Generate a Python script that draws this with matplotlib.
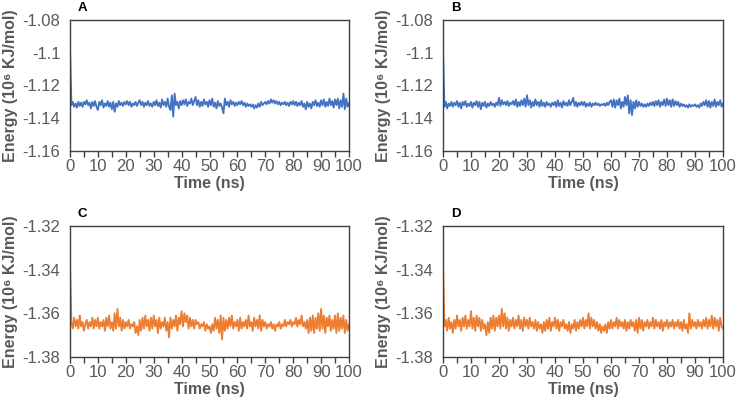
import numpy as np
import matplotlib
matplotlib.use('Agg')
import matplotlib.pyplot as plt

plt.rcParams['font.family'] = ['Liberation Sans', 'DejaVu Sans']

# time axis (ns), one frame every 0.5 ns
time_ns = np.linspace(0, 100, 201)

# total energy, 10^6 KJ/mol
energy_a = [
    -1.0970, -1.1320, -1.1300, -1.1330, -1.1310, -1.1335, -1.1300, -1.1325, -1.1305, -1.1330,
    -1.1300, -1.1315, -1.1290, -1.1320, -1.1305, -1.1340, -1.1300, -1.1325, -1.1295, -1.1330,
    -1.1350, -1.1300, -1.1320, -1.1290, -1.1335, -1.1310, -1.1325, -1.1295, -1.1330, -1.1305,
    -1.1345, -1.1300, -1.1360, -1.1310, -1.1330, -1.1295, -1.1320, -1.1305, -1.1325, -1.1300,
    -1.1315, -1.1295, -1.1320, -1.1300, -1.1330, -1.1310, -1.1320, -1.1300, -1.1325, -1.1305,
    -1.1290, -1.1320, -1.1300, -1.1330, -1.1305, -1.1320, -1.1295, -1.1325, -1.1310, -1.1330,
    -1.1300, -1.1320, -1.1290, -1.1325, -1.1305, -1.1335, -1.1285, -1.1320, -1.1300, -1.1330,
    -1.1280, -1.1330, -1.1350, -1.1260, -1.1390, -1.1250, -1.1320, -1.1300, -1.1340, -1.1295,
    -1.1320, -1.1290, -1.1315, -1.1285, -1.1325, -1.1300, -1.1310, -1.1280, -1.1320, -1.1295,
    -1.1270, -1.1320, -1.1290, -1.1330, -1.1300, -1.1325, -1.1285, -1.1315, -1.1300, -1.1330,
    -1.1290, -1.1320, -1.1280, -1.1330, -1.1305, -1.1340, -1.1295, -1.1325, -1.1310, -1.1335,
    -1.1370, -1.1280, -1.1320, -1.1300, -1.1330, -1.1290, -1.1315, -1.1300, -1.1325, -1.1305,
    -1.1320, -1.1300, -1.1315, -1.1295, -1.1320, -1.1305, -1.1330, -1.1310, -1.1325, -1.1315,
    -1.1330, -1.1315, -1.1340, -1.1320, -1.1335, -1.1310, -1.1330, -1.1300, -1.1320, -1.1310,
    -1.1300, -1.1315, -1.1295, -1.1310, -1.1285, -1.1305, -1.1290, -1.1310, -1.1295, -1.1315,
    -1.1300, -1.1320, -1.1305, -1.1315, -1.1300, -1.1320, -1.1305, -1.1325, -1.1300, -1.1315,
    -1.1295, -1.1320, -1.1300, -1.1325, -1.1305, -1.1320, -1.1295, -1.1330, -1.1310, -1.1345,
    -1.1300, -1.1330, -1.1310, -1.1340, -1.1300, -1.1320, -1.1290, -1.1325, -1.1305, -1.1330,
    -1.1290, -1.1320, -1.1285, -1.1330, -1.1300, -1.1325, -1.1280, -1.1320, -1.1295, -1.1335,
    -1.1285, -1.1320, -1.1280, -1.1340, -1.1290, -1.1330, -1.1250, -1.1345, -1.1280, -1.1330,
    -1.1310,
]
energy_b = [
    -1.0980, -1.1330, -1.1300, -1.1340, -1.1310, -1.1325, -1.1300, -1.1330, -1.1305, -1.1320,
    -1.1295, -1.1330, -1.1305, -1.1340, -1.1300, -1.1320, -1.1295, -1.1330, -1.1310, -1.1325,
    -1.1300, -1.1335, -1.1305, -1.1320, -1.1295, -1.1330, -1.1300, -1.1345, -1.1305, -1.1325,
    -1.1300, -1.1335, -1.1310, -1.1325, -1.1300, -1.1320, -1.1310, -1.1330, -1.1305, -1.1320,
    -1.1275, -1.1325, -1.1290, -1.1315, -1.1300, -1.1320, -1.1295, -1.1325, -1.1305, -1.1315,
    -1.1295, -1.1320, -1.1285, -1.1330, -1.1300, -1.1325, -1.1290, -1.1320, -1.1280, -1.1330,
    -1.1260, -1.1320, -1.1290, -1.1335, -1.1300, -1.1325, -1.1285, -1.1320, -1.1300, -1.1330,
    -1.1290, -1.1325, -1.1305, -1.1330, -1.1300, -1.1320, -1.1310, -1.1330, -1.1305, -1.1320,
    -1.1300, -1.1330, -1.1290, -1.1325, -1.1305, -1.1335, -1.1295, -1.1320, -1.1305, -1.1325,
    -1.1290, -1.1320, -1.1300, -1.1275, -1.1325, -1.1300, -1.1330, -1.1305, -1.1320, -1.1300,
    -1.1320, -1.1300, -1.1330, -1.1310, -1.1325, -1.1305, -1.1330, -1.1310, -1.1320, -1.1305,
    -1.1320, -1.1310, -1.1325, -1.1315, -1.1320, -1.1310, -1.1325, -1.1305, -1.1320, -1.1300,
    -1.1290, -1.1330, -1.1285, -1.1335, -1.1290, -1.1320, -1.1280, -1.1340, -1.1300, -1.1330,
    -1.1270, -1.1320, -1.1260, -1.1370, -1.1290, -1.1380, -1.1300, -1.1340, -1.1290, -1.1330,
    -1.1300, -1.1325, -1.1310, -1.1330, -1.1315, -1.1330, -1.1310, -1.1325, -1.1305, -1.1320,
    -1.1300, -1.1325, -1.1295, -1.1320, -1.1290, -1.1330, -1.1300, -1.1320, -1.1285, -1.1325,
    -1.1280, -1.1320, -1.1290, -1.1330, -1.1285, -1.1325, -1.1295, -1.1320, -1.1300, -1.1330,
    -1.1310, -1.1325, -1.1315, -1.1330, -1.1320, -1.1335, -1.1315, -1.1330, -1.1320, -1.1325,
    -1.1315, -1.1330, -1.1320, -1.1335, -1.1310, -1.1325, -1.1300, -1.1320, -1.1290, -1.1330,
    -1.1295, -1.1335, -1.1300, -1.1325, -1.1285, -1.1330, -1.1300, -1.1320, -1.1290, -1.1330,
    -1.1310,
]
energy_c = [
    -1.3370, -1.3640, -1.3670, -1.3620, -1.3660, -1.3630, -1.3670, -1.3610, -1.3660, -1.3640,
    -1.3680, -1.3650, -1.3630, -1.3670, -1.3640, -1.3660, -1.3620, -1.3670, -1.3630, -1.3660,
    -1.3620, -1.3670, -1.3640, -1.3660, -1.3630, -1.3680, -1.3620, -1.3660, -1.3610, -1.3670,
    -1.3640, -1.3680, -1.3600, -1.3670, -1.3580, -1.3660, -1.3620, -1.3680, -1.3630, -1.3670,
    -1.3640, -1.3660, -1.3630, -1.3670, -1.3650, -1.3660, -1.3640, -1.3690, -1.3660, -1.3700,
    -1.3630, -1.3680, -1.3620, -1.3670, -1.3610, -1.3660, -1.3630, -1.3680, -1.3620, -1.3670,
    -1.3610, -1.3660, -1.3630, -1.3690, -1.3620, -1.3670, -1.3640, -1.3660, -1.3620, -1.3680,
    -1.3640, -1.3710, -1.3620, -1.3670, -1.3630, -1.3660, -1.3610, -1.3680, -1.3620, -1.3650,
    -1.3590, -1.3660, -1.3600, -1.3640, -1.3610, -1.3670, -1.3620, -1.3660, -1.3630, -1.3670,
    -1.3630, -1.3650, -1.3640, -1.3670, -1.3650, -1.3660, -1.3640, -1.3680, -1.3650, -1.3670,
    -1.3660, -1.3690, -1.3650, -1.3680, -1.3620, -1.3670, -1.3630, -1.3690, -1.3610, -1.3720,
    -1.3620, -1.3680, -1.3630, -1.3670, -1.3620, -1.3660, -1.3610, -1.3670, -1.3640, -1.3660,
    -1.3630, -1.3680, -1.3620, -1.3670, -1.3640, -1.3660, -1.3630, -1.3670, -1.3610, -1.3660,
    -1.3640, -1.3680, -1.3620, -1.3660, -1.3630, -1.3670, -1.3610, -1.3680, -1.3630, -1.3660,
    -1.3640, -1.3670, -1.3650, -1.3660, -1.3640, -1.3670, -1.3650, -1.3680, -1.3650, -1.3660,
    -1.3640, -1.3670, -1.3650, -1.3660, -1.3630, -1.3660, -1.3640, -1.3650, -1.3630, -1.3660,
    -1.3640, -1.3650, -1.3620, -1.3660, -1.3630, -1.3650, -1.3610, -1.3660, -1.3640, -1.3670,
    -1.3630, -1.3690, -1.3620, -1.3680, -1.3610, -1.3690, -1.3620, -1.3670, -1.3600, -1.3680,
    -1.3580, -1.3670, -1.3610, -1.3690, -1.3620, -1.3660, -1.3610, -1.3680, -1.3630, -1.3670,
    -1.3610, -1.3690, -1.3600, -1.3680, -1.3620, -1.3670, -1.3610, -1.3690, -1.3630, -1.3680,
    -1.3650,
]
energy_d = [
    -1.3370, -1.3660, -1.3630, -1.3680, -1.3620, -1.3670, -1.3640, -1.3690, -1.3630, -1.3670,
    -1.3610, -1.3660, -1.3630, -1.3680, -1.3620, -1.3660, -1.3610, -1.3670, -1.3630, -1.3660,
    -1.3590, -1.3670, -1.3620, -1.3680, -1.3610, -1.3660, -1.3620, -1.3680, -1.3630, -1.3670,
    -1.3650, -1.3700, -1.3640, -1.3690, -1.3620, -1.3670, -1.3610, -1.3680, -1.3620, -1.3660,
    -1.3610, -1.3670, -1.3580, -1.3660, -1.3600, -1.3670, -1.3620, -1.3680, -1.3630, -1.3660,
    -1.3620, -1.3670, -1.3630, -1.3660, -1.3610, -1.3670, -1.3630, -1.3680, -1.3620, -1.3660,
    -1.3630, -1.3670, -1.3620, -1.3660, -1.3640, -1.3670, -1.3630, -1.3680, -1.3640, -1.3670,
    -1.3650, -1.3690, -1.3640, -1.3680, -1.3630, -1.3670, -1.3620, -1.3680, -1.3640, -1.3660,
    -1.3620, -1.3670, -1.3630, -1.3680, -1.3640, -1.3660, -1.3630, -1.3670, -1.3650, -1.3680,
    -1.3640, -1.3690, -1.3650, -1.3670, -1.3630, -1.3680, -1.3640, -1.3670, -1.3630, -1.3660,
    -1.3620, -1.3670, -1.3630, -1.3660, -1.3600, -1.3670, -1.3620, -1.3660, -1.3630, -1.3670,
    -1.3640, -1.3680, -1.3650, -1.3690, -1.3660, -1.3680, -1.3650, -1.3690, -1.3640, -1.3670,
    -1.3630, -1.3670, -1.3640, -1.3660, -1.3620, -1.3670, -1.3630, -1.3660, -1.3640, -1.3670,
    -1.3630, -1.3680, -1.3640, -1.3670, -1.3630, -1.3660, -1.3640, -1.3680, -1.3630, -1.3690,
    -1.3620, -1.3670, -1.3630, -1.3680, -1.3640, -1.3660, -1.3630, -1.3670, -1.3640, -1.3660,
    -1.3620, -1.3670, -1.3630, -1.3660, -1.3640, -1.3670, -1.3630, -1.3680, -1.3640, -1.3660,
    -1.3630, -1.3670, -1.3640, -1.3660, -1.3630, -1.3670, -1.3640, -1.3660, -1.3630, -1.3670,
    -1.3640, -1.3680, -1.3630, -1.3670, -1.3650, -1.3690, -1.3600, -1.3670, -1.3630, -1.3660,
    -1.3640, -1.3670, -1.3630, -1.3660, -1.3640, -1.3670, -1.3630, -1.3660, -1.3620, -1.3670,
    -1.3630, -1.3660, -1.3610, -1.3670, -1.3620, -1.3660, -1.3630, -1.3680, -1.3620, -1.3660,
    -1.3670,
]

panel_letters = ['A', 'B', 'C', 'D']
series = [energy_a, energy_b, energy_c, energy_d]
colors = ['#4472C4', '#4472C4', '#ED7D31', '#ED7D31']
y_limits = [(-1.16, -1.08), (-1.16, -1.08), (-1.38, -1.32), (-1.38, -1.32)]
y_ticks = [
    [-1.16, -1.14, -1.12, -1.1, -1.08],
    [-1.16, -1.14, -1.12, -1.1, -1.08],
    [-1.38, -1.36, -1.34, -1.32],
    [-1.38, -1.36, -1.34, -1.32],
]
x_ticks = [0, 10, 20, 30, 40, 50, 60, 70, 80, 90, 100]

W, H = 738, 407
fig = plt.figure(figsize=(W / 100, H / 100), dpi=100)

# axes boxes in pixels: left, top, right, bottom
boxes = [(70, 20, 349, 151), (443, 20, 723, 151), (70, 226, 349, 357), (443, 226, 723, 357)]
gray = '#595959'

for letter, y, col, ylim, yt, (l, t, r, b) in zip(panel_letters, series, colors, y_limits, y_ticks, boxes):
    ax = fig.add_axes([l / W, 1 - b / H, (r - l) / W, (b - t) / H])
    ax.plot(time_ns, y, color=col, linewidth=1.35)
    ax.set_xlim(0, 100)
    ax.set_ylim(*ylim)
    ax.set_xticks(x_ticks)
    ax.set_xticks(np.arange(5, 100, 10), minor=True)
    ax.set_yticks(yt)
    ax.set_yticklabels([('%g' % v) for v in yt])
    for s in ax.spines.values():
        s.set_color('#404040')
        s.set_linewidth(1.0)
    ax.tick_params(axis='x', which='both', direction='out', length=4, width=1,
                   color='#404040', labelsize=12, labelcolor=gray, pad=2)
    ax.tick_params(axis='y', length=0, labelsize=12, labelcolor=gray, pad=7)
    ax.set_xlabel('Time (ns)', fontsize=11.5, fontweight='bold', color=gray, labelpad=1)
    ax.set_ylabel('Energy (10⁶ KJ/mol)', fontsize=11.5, fontweight='bold', color=gray, labelpad=3)
    fig.text((l + 8) / W, 1 - (t - 12) / H, letter, fontsize=9.5, fontweight='bold',
             color='black', ha='left', va='center')

fig.savefig('out.png', dpi=100)
